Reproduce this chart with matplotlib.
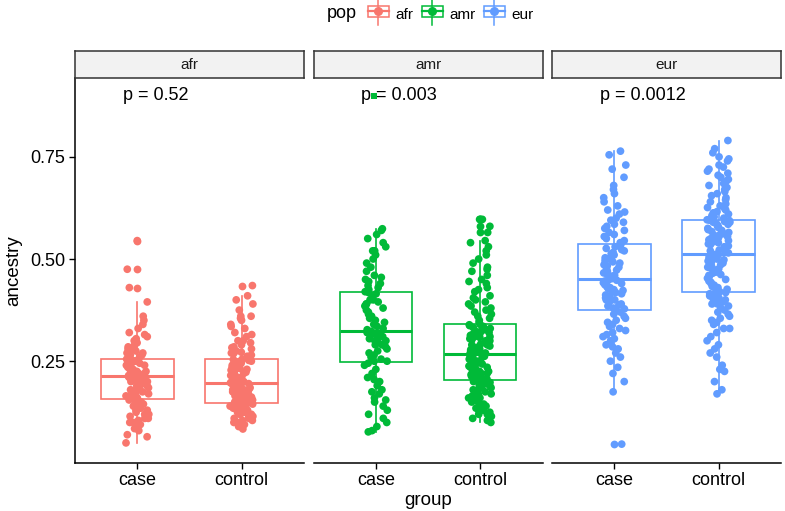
import numpy as np
import matplotlib.pyplot as plt
from matplotlib.patches import Rectangle
from matplotlib.lines import Line2D
from matplotlib.legend_handler import HandlerBase

plt.rcParams['font.family'] = ['Liberation Sans', 'DejaVu Sans']

pops = ["afr", "amr", "eur"]
groups = ["case", "control"]
colors = {"afr": "#F8766D", "amr": "#00BA38", "eur": "#619CFF"}
p_labels = {"afr": "p = 0.52", "amr": "p = 0.003", "eur": "p = 0.0012"}

# ancestry values per pop / group
afr_case = [0.05, 0.065, 0.07, 0.08, 0.085, 0.09, 0.095, 0.10, 0.10, 0.105, 0.11, 0.11, 0.115,
            0.12, 0.12, 0.125, 0.13, 0.13, 0.135, 0.14, 0.145, 0.145, 0.15, 0.15, 0.155,
            0.16, 0.16, 0.165, 0.165, 0.17, 0.17, 0.175, 0.175, 0.18, 0.18, 0.185, 0.185, 0.19,
            0.19, 0.195, 0.195, 0.20, 0.20, 0.20, 0.205, 0.205, 0.21, 0.21, 0.21, 0.212,
            0.215, 0.215, 0.22, 0.22, 0.22, 0.225, 0.225, 0.23, 0.23, 0.23, 0.235, 0.235, 0.24,
            0.24, 0.24, 0.245, 0.245, 0.245, 0.25, 0.25, 0.25, 0.252, 0.254, 0.255, 0.256,
            0.26, 0.26, 0.265, 0.265, 0.27, 0.27, 0.275, 0.28, 0.28, 0.285, 0.29, 0.295, 0.30,
            0.305, 0.31, 0.315, 0.32, 0.33, 0.34, 0.35, 0.36, 0.395, 0.43, 0.475, 0.545]
afr_control = [0.084, 0.09, 0.09, 0.095, 0.10, 0.10, 0.105, 0.105, 0.11, 0.11, 0.115, 0.115,
               0.12, 0.12, 0.12, 0.125, 0.125, 0.13, 0.13, 0.13, 0.135, 0.135, 0.135, 0.14,
               0.14, 0.14, 0.145, 0.145, 0.145, 0.146,
               0.15, 0.15, 0.152, 0.155, 0.155, 0.158, 0.16, 0.16, 0.162, 0.165, 0.165, 0.168,
               0.17, 0.17, 0.172, 0.175, 0.175, 0.178, 0.18, 0.18, 0.182, 0.185, 0.185, 0.188,
               0.19, 0.19, 0.192, 0.194, 0.195, 0.195,
               0.197, 0.198, 0.20, 0.20, 0.203, 0.205, 0.207, 0.21, 0.21, 0.212, 0.215, 0.218,
               0.22, 0.22, 0.223, 0.225, 0.228, 0.23, 0.232, 0.235, 0.238, 0.24, 0.242, 0.245,
               0.247, 0.25, 0.25, 0.252, 0.254, 0.255,
               0.258, 0.26, 0.262, 0.265, 0.268, 0.27, 0.272, 0.275, 0.28, 0.283, 0.285, 0.29,
               0.295, 0.30, 0.30, 0.31, 0.315, 0.32, 0.33, 0.335, 0.34, 0.35, 0.355, 0.36, 0.36,
               0.375, 0.39, 0.40, 0.41, 0.435]
amr_case = [0.077, 0.08, 0.09, 0.10, 0.11, 0.12, 0.13, 0.14, 0.15, 0.155, 0.16, 0.17, 0.175,
            0.18, 0.19, 0.20, 0.205, 0.21, 0.22, 0.23, 0.24, 0.245,
            0.25, 0.25, 0.255, 0.26, 0.265, 0.27, 0.275, 0.28, 0.285, 0.29, 0.29, 0.295, 0.30,
            0.30, 0.305, 0.31, 0.31, 0.315, 0.315, 0.32, 0.32, 0.323,
            0.327, 0.33, 0.335, 0.34, 0.345, 0.35, 0.355, 0.36, 0.365, 0.37, 0.375, 0.38, 0.385,
            0.39, 0.39, 0.395, 0.40, 0.40, 0.405, 0.41, 0.415, 0.418,
            0.42, 0.425, 0.43, 0.435, 0.44, 0.445, 0.45, 0.455, 0.46, 0.47, 0.48, 0.49, 0.50,
            0.51, 0.52, 0.52, 0.53, 0.54, 0.55, 0.56, 0.57, 0.574]
amr_control = [0.10, 0.105, 0.11, 0.115, 0.12, 0.12, 0.125, 0.13, 0.13, 0.135, 0.14, 0.14, 0.145,
               0.15, 0.15, 0.155, 0.16, 0.16, 0.165, 0.17, 0.17, 0.175, 0.175, 0.18, 0.18, 0.185,
               0.185, 0.19, 0.19, 0.195, 0.195, 0.198, 0.20, 0.20, 0.203,
               0.207, 0.21, 0.21, 0.212, 0.215, 0.215, 0.218, 0.22, 0.22, 0.223, 0.225, 0.225,
               0.228, 0.23, 0.23, 0.233, 0.235, 0.235, 0.238, 0.24, 0.24, 0.243, 0.245, 0.245,
               0.248, 0.25, 0.25, 0.253, 0.255, 0.257, 0.26, 0.26, 0.262, 0.265, 0.266,
               0.27, 0.272, 0.274, 0.276, 0.278, 0.28, 0.28, 0.283, 0.285, 0.287, 0.29, 0.29,
               0.292, 0.295, 0.297, 0.30, 0.30, 0.303, 0.305, 0.308, 0.31, 0.31, 0.313, 0.315,
               0.318, 0.32, 0.322, 0.325, 0.327, 0.33, 0.332, 0.335, 0.337, 0.339, 0.34,
               0.345, 0.35, 0.355, 0.36, 0.365, 0.37, 0.375, 0.38, 0.385, 0.39, 0.395, 0.40,
               0.405, 0.41, 0.42, 0.425, 0.43, 0.44, 0.445, 0.45, 0.46, 0.47, 0.475, 0.48, 0.49,
               0.50, 0.51, 0.52, 0.53, 0.54, 0.545, 0.565, 0.58, 0.597, 0.597]
eur_case = [0.047, 0.175, 0.20, 0.22, 0.235, 0.25, 0.26, 0.27, 0.28, 0.285, 0.29, 0.30, 0.305,
            0.31, 0.315, 0.32, 0.325, 0.33, 0.335, 0.34, 0.345, 0.35, 0.355, 0.36, 0.365, 0.37,
            0.373,
            0.378, 0.38, 0.385, 0.388, 0.39, 0.395, 0.40, 0.40, 0.405, 0.41, 0.412, 0.415, 0.418,
            0.42, 0.423, 0.425, 0.428, 0.43, 0.432, 0.435, 0.437, 0.44, 0.442, 0.445, 0.446,
            0.448, 0.449,
            0.452, 0.455, 0.458, 0.46, 0.463, 0.466, 0.47, 0.473, 0.476, 0.48, 0.483, 0.486,
            0.49, 0.493, 0.496, 0.50, 0.503, 0.506, 0.51, 0.513, 0.516, 0.52, 0.523, 0.526,
            0.53, 0.533, 0.536,
            0.54, 0.545, 0.55, 0.555, 0.56, 0.565, 0.57, 0.575, 0.58, 0.585, 0.59, 0.595, 0.60,
            0.61, 0.615, 0.62, 0.63, 0.64, 0.65, 0.66, 0.67, 0.68, 0.70, 0.72, 0.73, 0.755, 0.764]
eur_control = [0.17, 0.18, 0.20, 0.225, 0.23, 0.24, 0.26, 0.27, 0.28, 0.29, 0.30, 0.31, 0.32,
               0.33, 0.33, 0.34, 0.345, 0.35, 0.355, 0.36, 0.365, 0.37, 0.375, 0.38, 0.385,
               0.39, 0.39, 0.395, 0.40, 0.40, 0.405, 0.41, 0.41, 0.415, 0.415, 0.418,
               0.42, 0.423, 0.426, 0.43, 0.433, 0.436, 0.44, 0.443, 0.446, 0.45, 0.453, 0.456,
               0.46, 0.462, 0.465, 0.468, 0.47, 0.473, 0.476, 0.478, 0.48, 0.483, 0.486, 0.488,
               0.49, 0.493, 0.495, 0.498, 0.50, 0.502, 0.504, 0.506, 0.508, 0.51, 0.511, 0.512,
               0.515, 0.517, 0.52, 0.522, 0.525, 0.527, 0.53, 0.532, 0.535, 0.537, 0.54, 0.542,
               0.545, 0.547, 0.55, 0.552, 0.555, 0.557, 0.56, 0.562, 0.565, 0.567, 0.57, 0.572,
               0.575, 0.577, 0.58, 0.582, 0.585, 0.587, 0.59, 0.59, 0.592, 0.594, 0.595, 0.596,
               0.60, 0.603, 0.606, 0.61, 0.613, 0.616, 0.62, 0.623, 0.626, 0.63, 0.635, 0.64,
               0.645, 0.65, 0.655, 0.66, 0.665, 0.67, 0.675, 0.68, 0.685, 0.69, 0.695, 0.70,
               0.705, 0.71, 0.715, 0.72, 0.725, 0.73, 0.74, 0.745, 0.75, 0.76, 0.77, 0.79]

values = {("afr", "case"): afr_case, ("afr", "control"): afr_control,
          ("amr", "case"): amr_case, ("amr", "control"): amr_control,
          ("eur", "case"): eur_case, ("eur", "control"): eur_control}

# box stats: (whislo, q1, med, q3, whishi, outliers)
box_stats = {("afr", "case"): (0.05, 0.158, 0.213, 0.256, 0.395, [0.43, 0.475, 0.545]),
             ("afr", "control"): (0.084, 0.147, 0.196, 0.256, 0.41, [0.435]),
             ("amr", "case"): (0.077, 0.248, 0.325, 0.419, 0.574, []),
             ("amr", "control"): (0.10, 0.205, 0.268, 0.341, 0.545, [0.565, 0.58, 0.597, 0.597]),
             ("eur", "case"): (0.175, 0.376, 0.45, 0.537, 0.764, [0.047]),
             ("eur", "control"): (0.17, 0.419, 0.513, 0.596, 0.79, [])}

W, H = 785, 511
fig = plt.figure(figsize=(W / 100, H / 100), dpi=100)

panel_left = [75, 313.5, 552]
panel_w = 229
top, bottom = 78, 462.5
strip_top = 51

for i, pop in enumerate(pops):
    ax = fig.add_axes([panel_left[i] / W, 1 - bottom / H, panel_w / W, (bottom - top) / H])
    c = colors[pop]
    for j, grp in enumerate(groups):
        lo, q1, med, q3, hi, fl = box_stats[(pop, grp)]
        ax.bxp([dict(whislo=lo, q1=q1, med=med, q3=q3, whishi=hi, fliers=fl)],
               positions=[j + 1], widths=0.7, showcaps=False, patch_artist=True,
               boxprops=dict(facecolor="white", edgecolor=c, linewidth=1.2),
               whiskerprops=dict(color=c, linewidth=1.2),
               medianprops=dict(color=c, linewidth=2.2),
               flierprops=dict(marker="o", markerfacecolor=c, markeredgewidth=0,
                               markersize=5.6, linestyle="none"))
        v = np.array(values[(pop, grp)])
        k = np.arange(len(v)) + 7 * i + 3 * j
        # deterministic jitter offsets (positions only)
        jit = ((np.sin(k * 12.9898) * 43758.5453) % 1 - 0.5) * 2 * 0.11
        ax.scatter(j + 1 + jit, v, s=31, color=c, edgecolors="none", zorder=3)

    ax.text(0.86, 0.9, p_labels[pop], fontsize=13, ha="left", va="center")
    if pop == "amr":
        ax.scatter([0.98], [0.9], marker="s", s=18, color=c, edgecolors="none", zorder=4)

    ax.set_xlim(0.4, 2.6)
    ax.set_ylim(0.002, 0.943)
    ax.set_xticks([1, 2])
    ax.set_xticklabels(groups, fontsize=13)
    ax.set_yticks([0.25, 0.5, 0.75])
    ax.set_yticklabels(["0.25", "0.50", "0.75"], fontsize=13)
    ax.tick_params(length=4, width=1, color="black", pad=3)
    for s in ["top", "right"]:
        ax.spines[s].set_visible(False)
    ax.spines["bottom"].set_linewidth(1.1)
    ax.spines["left"].set_linewidth(1.1)
    if i > 0:
        ax.spines["left"].set_visible(False)
        ax.tick_params(axis="y", left=False, labelleft=False)
    else:
        ax.set_ylabel("ancestry", fontsize=13.5, labelpad=6)
    if pop == "amr":
        ax.set_xlabel("group", fontsize=13.5, labelpad=2)

    # facet strip
    sx = fig.add_axes([panel_left[i] / W, 1 - top / H, panel_w / W, (top - strip_top) / H])
    sx.set_facecolor("#F2F2F2")
    sx.set_xticks([])
    sx.set_yticks([])
    for s in sx.spines.values():
        s.set_linewidth(1.1)
        s.set_color("#333333")
    sx.text(0.5, 0.5, pop, fontsize=11, ha="center", va="center", transform=sx.transAxes,
            color="#1A1A1A")


class BoxKey(HandlerBase):
    def create_artists(self, legend, orig, xd, yd, w, h, fontsize, trans):
        c = orig.get_color()
        cx = xd + w / 2
        cy = yd + h / 2
        bw = w * 0.85
        bh = h * 0.9
        rect = Rectangle((cx - bw / 2, cy - bh / 2), bw, bh, facecolor="white",
                         edgecolor=c, linewidth=1.1, transform=trans)
        wh1 = Line2D([cx, cx], [cy + bh / 2, cy + h * 1.05], color=c, linewidth=1.1,
                     transform=trans)
        wh2 = Line2D([cx, cx], [cy - bh / 2, cy - h * 1.05], color=c, linewidth=1.1,
                     transform=trans)
        md = Line2D([cx - bw / 2, cx + bw / 2], [cy, cy], color=c, linewidth=1.6,
                    transform=trans)
        dot = Line2D([cx], [cy], marker="o", markersize=5.5, color=c, linestyle="none",
                     transform=trans)
        return [rect, wh1, wh2, md, dot]


handles = [Line2D([], [], color=colors[p]) for p in pops]
fig.text(327 / W, 1 - 14 / H, "pop", fontsize=13, ha="left", va="center")
fig.legend(handles, pops, handler_map={Line2D: BoxKey()}, loc="center left",
           bbox_to_anchor=(366 / W, 1 - 14.5 / H), ncol=3, frameon=False, fontsize=11,
           handlelength=1.6, handleheight=0.9, handletextpad=0.35, columnspacing=0.4,
           borderpad=0, borderaxespad=0)

fig.savefig("out.png", dpi=100)
